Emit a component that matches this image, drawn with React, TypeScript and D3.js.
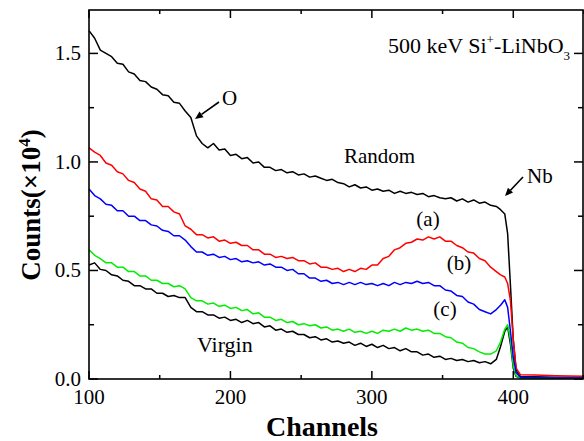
import React from "react";
import * as d3 from "d3";

const channels = [100,104,108,112,116,120,124,128,132,136,140,144,148,152,156,160,164,168,172,176,180,184,188,192,196,200,204,208,212,216,220,224,228,232,236,240,244,248,252,256,260,264,268,272,276,280,284,288,292,296,300,304,308,312,316,320,324,328,332,336,340,344,348,352,356,360,364,368,372,376,380,384,388,391,394,396,398,400,402,405,415,430,450];

const random = [1.605,1.57,1.515,1.50,1.485,1.455,1.45,1.415,1.405,1.375,1.37,1.345,1.335,1.31,1.305,1.275,1.27,1.235,1.205,1.12,1.085,1.065,1.085,1.055,1.06,1.03,1.035,1.015,1.02,0.995,1.0,0.975,0.975,0.96,0.965,0.95,0.955,0.94,0.945,0.93,0.935,0.925,0.915,0.92,0.905,0.90,0.885,0.895,0.88,0.885,0.87,0.875,0.865,0.87,0.855,0.865,0.855,0.86,0.85,0.855,0.84,0.845,0.835,0.83,0.835,0.82,0.83,0.815,0.825,0.81,0.815,0.80,0.795,0.78,0.76,0.67,0.43,0.18,0.04,0.012,0.01,0.008,0.008];

const seriesA = [1.065,1.045,1.03,0.995,0.985,0.955,0.945,0.915,0.905,0.875,0.865,0.83,0.825,0.795,0.795,0.77,0.76,0.705,0.69,0.665,0.665,0.65,0.655,0.635,0.64,0.625,0.63,0.615,0.615,0.595,0.595,0.575,0.575,0.56,0.565,0.555,0.56,0.545,0.545,0.53,0.535,0.515,0.515,0.505,0.51,0.495,0.505,0.495,0.51,0.505,0.525,0.525,0.555,0.565,0.595,0.605,0.625,0.63,0.645,0.64,0.655,0.645,0.655,0.635,0.635,0.615,0.605,0.585,0.58,0.555,0.545,0.515,0.495,0.48,0.47,0.44,0.36,0.18,0.05,0.02,0.018,0.015,0.013];

const seriesB = [0.875,0.845,0.83,0.805,0.80,0.775,0.775,0.75,0.75,0.73,0.73,0.71,0.705,0.685,0.68,0.66,0.66,0.64,0.61,0.585,0.585,0.57,0.575,0.56,0.565,0.55,0.555,0.54,0.545,0.535,0.54,0.525,0.53,0.515,0.515,0.50,0.505,0.485,0.485,0.465,0.465,0.45,0.455,0.44,0.445,0.435,0.445,0.435,0.445,0.435,0.44,0.43,0.44,0.43,0.445,0.435,0.445,0.44,0.45,0.44,0.445,0.43,0.43,0.41,0.405,0.385,0.38,0.355,0.345,0.32,0.31,0.30,0.32,0.34,0.365,0.33,0.22,0.10,0.03,0.008,0.006,0.005,0.005];

const seriesC = [0.595,0.57,0.555,0.535,0.535,0.515,0.515,0.495,0.495,0.475,0.475,0.455,0.455,0.44,0.44,0.425,0.43,0.415,0.375,0.36,0.36,0.345,0.35,0.335,0.34,0.325,0.33,0.315,0.32,0.30,0.305,0.285,0.285,0.27,0.275,0.26,0.265,0.25,0.255,0.245,0.25,0.235,0.24,0.225,0.23,0.22,0.23,0.215,0.22,0.21,0.22,0.21,0.225,0.22,0.23,0.22,0.235,0.225,0.23,0.22,0.225,0.21,0.21,0.195,0.19,0.17,0.165,0.145,0.14,0.125,0.115,0.115,0.13,0.17,0.23,0.25,0.18,0.06,0.015,0.005,0.004,0.004,0.004];

const virgin = [0.525,0.535,0.505,0.50,0.48,0.475,0.455,0.45,0.43,0.43,0.415,0.415,0.395,0.395,0.38,0.385,0.375,0.375,0.33,0.31,0.31,0.295,0.295,0.28,0.285,0.27,0.275,0.26,0.27,0.255,0.26,0.24,0.245,0.225,0.23,0.215,0.22,0.205,0.205,0.19,0.195,0.18,0.185,0.17,0.175,0.165,0.17,0.155,0.165,0.15,0.16,0.145,0.155,0.14,0.145,0.13,0.14,0.125,0.125,0.11,0.115,0.10,0.105,0.09,0.095,0.085,0.09,0.08,0.085,0.075,0.08,0.07,0.09,0.15,0.22,0.24,0.16,0.05,0.012,0.004,0.003,0.003,0.003];

const xTicks = [100, 200, 300, 400];
const xMinor = [150, 250, 350, 450];
const yTicks = [0, 0.5, 1.0, 1.5];
const yMinor = [0.25, 0.75, 1.25];

const seriesList = [
  { name: "Random", values: random, color: "#000000" },
  { name: "Virgin", values: virgin, color: "#000000" },
  { name: "(c)", values: seriesC, color: "#00ee00" },
  { name: "(a)", values: seriesA, color: "#ff0000" },
  { name: "(b)", values: seriesB, color: "#0000ff" },
];

const W = 584, H = 441;
const L = 89, R = 583, T = 10, B = 379;
const FONT = "Liberation Serif, Tinos, Times New Roman, DejaVu Serif, serif";
const ts: React.CSSProperties = { fontFamily: FONT };

function Arrow({ x1, y1, x2, y2 }: { x1: number; y1: number; x2: number; y2: number }) {
  const ang = Math.atan2(y2 - y1, x2 - x1);
  const len = 8, wid = 3.5;
  const bx = x2 - len * Math.cos(ang), by = y2 - len * Math.sin(ang);
  const px = -Math.sin(ang) * wid, py = Math.cos(ang) * wid;
  return (
    <g>
      <line x1={x1} y1={y1} x2={bx} y2={by} stroke="#000" strokeWidth={1.6} />
      <path d={`M${x2},${y2} L${bx + px},${by + py} L${bx - px},${by - py} Z`} fill="#000" />
    </g>
  );
}

export default function App() {
  const x = d3.scaleLinear().domain([100, 450]).range([L, R + 1]);
  const y = d3.scaleLinear().domain([0, 1.7]).range([B, T]);
  const line = d3.line<number>().x((_, i) => x(channels[i])).y((d) => y(d));

  return (
    <svg width={W} height={H} style={{ position: "absolute", left: 0, top: 0, background: "#fff", fontFamily: FONT }}>
      <rect width={W} height={H} fill="#fff" />
      {seriesList.map((s) => (
        <path key={s.name} d={line(s.values) || ""} fill="none" stroke={s.color} strokeWidth={1.5} strokeLinejoin="round" />
      ))}
      <rect x={L} y={T} width={R - L} height={B - T} fill="none" stroke="#000" strokeWidth={1.6} />
      {xTicks.map((t) => (
        <g key={"xt" + t}>
          <line x1={x(t)} x2={x(t)} y1={B} y2={B - 8} stroke="#000" strokeWidth={1.5} />
          <line x1={x(t)} x2={x(t)} y1={T} y2={T + 8} stroke="#000" strokeWidth={1.5} />
          <text style={ts} x={x(t)} y={404} textAnchor="middle" fontSize={21}>{t}</text>
        </g>
      ))}
      {xMinor.map((t) => (
        <g key={"xm" + t}>
          <line x1={x(t)} x2={x(t)} y1={B} y2={B - 4} stroke="#000" strokeWidth={1.5} />
          <line x1={x(t)} x2={x(t)} y1={T} y2={T + 4} stroke="#000" strokeWidth={1.5} />
        </g>
      ))}
      {yTicks.map((t) => (
        <g key={"yt" + t}>
          <line x1={L} x2={L + 9} y1={y(t)} y2={y(t)} stroke="#000" strokeWidth={1.5} />
          <line x1={R} x2={R - 9} y1={y(t)} y2={y(t)} stroke="#000" strokeWidth={1.5} />
          <text style={ts} x={81} y={y(t) + 7} textAnchor="end" fontSize={21}>{t.toFixed(1)}</text>
        </g>
      ))}
      {yMinor.map((t) => (
        <g key={"ym" + t}>
          <line x1={L} x2={L + 5} y1={y(t)} y2={y(t)} stroke="#000" strokeWidth={1.5} />
          <line x1={R} x2={R - 5} y1={y(t)} y2={y(t)} stroke="#000" strokeWidth={1.5} />
        </g>
      ))}
      <text style={ts} x={322} y={436} textAnchor="middle" fontSize={28} fontWeight="bold">Channels</text>
      <text style={ts} transform="translate(40,205) rotate(-90)" textAnchor="middle" fontSize={27} fontWeight="bold">
        Counts(×10<tspan dy={-10} fontSize={17}>4</tspan><tspan dy={10}>)</tspan>
      </text>
      <text style={ts} x={388} y={53} fontSize={22}>
        500 keV Si<tspan dy={-9} fontSize={13}>+</tspan><tspan dy={9}>-LiNbO</tspan><tspan dy={7} fontSize={13}>3</tspan>
      </text>
      <text style={ts} x={222} y={105} fontSize={21}>O</text>
      <Arrow x1={219} y1={102} x2={195} y2={119} />
      <text style={ts} x={344} y={163} fontSize={21}>Random</text>
      <text style={ts} x={527} y={183} fontSize={21}>Nb</text>
      <Arrow x1={523} y1={177} x2={505} y2={196} />
      <text style={ts} x={428} y={226} textAnchor="middle" fontSize={21}>(a)</text>
      <text style={ts} x={459} y={270} textAnchor="middle" fontSize={21}>(b)</text>
      <text style={ts} x={445} y={316} textAnchor="middle" fontSize={21}>(c)</text>
      <text style={ts} x={197} y={352} fontSize={22}>Virgin</text>
    </svg>
  );
}
